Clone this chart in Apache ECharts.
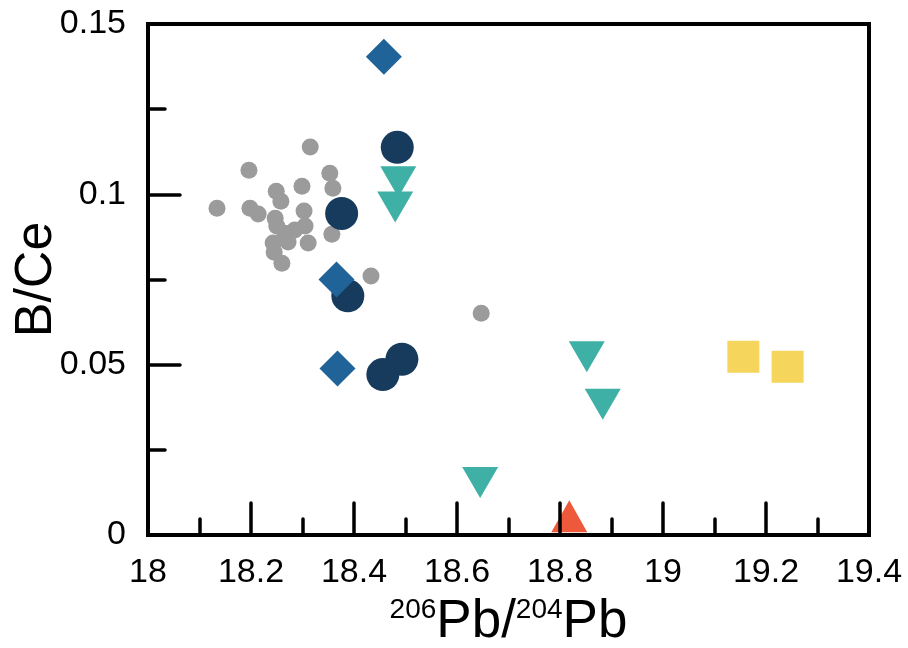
<!DOCTYPE html>
<html>
<head>
<meta charset="utf-8">
<script src="https://cdn.jsdelivr.net/npm/echarts@6/dist/echarts.min.js"></script>
<style>
  html, body { margin: 0; padding: 0; background: #fff; }
  #main { width: 908px; height: 648px; }
</style>
</head>
<body>
<div id="main"></div>
<script>
// 206Pb/204Pb vs B/Ce, one array per symbol group
const grayDots = [
  [18.315, 0.1139], [18.196, 0.1071], [18.353, 0.1062], [18.359, 0.1018],
  [18.299, 0.1024], [18.249, 0.1009], [18.258, 0.0980], [18.134, 0.0959],
  [18.198, 0.0959], [18.214, 0.0942], [18.303, 0.0951], [18.247, 0.0930],
  [18.250, 0.0907], [18.305, 0.0907], [18.285, 0.0895], [18.266, 0.0886],
  [18.272, 0.0860], [18.311, 0.0857], [18.243, 0.0857], [18.245, 0.0830],
  [18.260, 0.0798], [18.357, 0.0883], [18.433, 0.0760], [18.647, 0.0651]
]
const navyCircles = [
  [18.484, 0.1138], [18.376, 0.0944], [18.388, 0.0702], [18.493, 0.0516], [18.456, 0.0471]
]
const blueDiamonds = [
  [18.458, 0.1404], [18.366, 0.0750], [18.368, 0.0489]
]
const tealTriangles = [
  [18.486, 0.1037], [18.480, 0.0963], [18.852, 0.0523], [18.883, 0.0384], [18.645, 0.0154]
]
const redTriangles = [
  [18.818, 0.0055]
]
const yellowSquares = [
  [19.156, 0.0523], [19.242, 0.0494]
]

const FONT = '"Liberation Sans", Arial, sans-serif'

const chart = echarts.init(document.getElementById('main'))

chart.setOption({
  animation: false,
  backgroundColor: '#fff',
  grid: {
    left: 148, right: 39, top: 24, bottom: 113,
    outerBoundsMode: 'none',
    containLabel: false,
    show: true, borderColor: '#000', borderWidth: 4
  },
  xAxis: {
    type: 'value', min: 18, max: 19.4, interval: 0.2, z: 10,
    axisLine: { onZero: false, lineStyle: { color: '#000', width: 4 } },
    axisTick: { inside: true, length: 32, lineStyle: { color: '#000', width: 3.5, cap: 'round' } },
    minorTick: { show: true, splitNumber: 2, length: 16, lineStyle: { color: '#000', width: 3.5, cap: 'round' } },
    splitLine: { show: false },
    axisLabel: { fontSize: 34, color: '#000', fontFamily: FONT, margin: 21, showMaxLabel: true, showMinLabel: true },
    name: '{sup|206}{n|Pb/}{sup|204}{n|Pb}',
    nameLocation: 'middle',
    nameGap: 61,
    nameMoveOverlap: false,
    nameTextStyle: {
      color: '#000', fontFamily: FONT,
      rich: {
        n: { fontSize: 53, lineHeight: 53, color: '#000', fontFamily: FONT },
        sup: { fontSize: 28, lineHeight: 28, verticalAlign: 'top', color: '#000', fontFamily: FONT }
      }
    }
  },
  yAxis: {
    type: 'value', min: 0, max: 0.15, interval: 0.05, z: 10,
    axisLine: { onZero: false, lineStyle: { color: '#000', width: 4 } },
    axisTick: { inside: true, length: 32, lineStyle: { color: '#000', width: 3.5, cap: 'round' } },
    minorTick: { show: true, splitNumber: 2, length: 17, lineStyle: { color: '#000', width: 3.5, cap: 'round' } },
    splitLine: { show: false },
    axisLabel: { fontSize: 34, color: '#000', fontFamily: FONT, margin: 22 },
    name: 'B/Ce',
    nameLocation: 'middle',
    nameGap: 85,
    nameMoveOverlap: false,
    nameTextStyle: { fontSize: 52, color: '#000', fontFamily: FONT }
  },
  series: [
    { type: 'scatter', data: grayDots, symbol: 'circle', symbolSize: 17,
      itemStyle: { color: '#9b9b9b', opacity: 1 } },
    { type: 'scatter', data: navyCircles, symbol: 'circle', symbolSize: 33,
      itemStyle: { color: '#173b5d', opacity: 1 } },
    { type: 'scatter', data: blueDiamonds, symbol: 'diamond', symbolSize: 36,
      itemStyle: { color: '#1f6399', opacity: 1 } },
    { type: 'scatter', data: tealTriangles, symbol: 'triangle', symbolRotate: 180, symbolSize: [36, 31],
      itemStyle: { color: '#3eb0a5', opacity: 1 } },
    { type: 'scatter', data: redTriangles, symbol: 'triangle', symbolSize: [36, 32],
      itemStyle: { color: '#ee583b', opacity: 1 } },
    { type: 'scatter', data: yellowSquares, symbol: 'rect', symbolSize: 32,
      itemStyle: { color: '#f5d55c', opacity: 1 } }
  ]
})
</script>
</body>
</html>
